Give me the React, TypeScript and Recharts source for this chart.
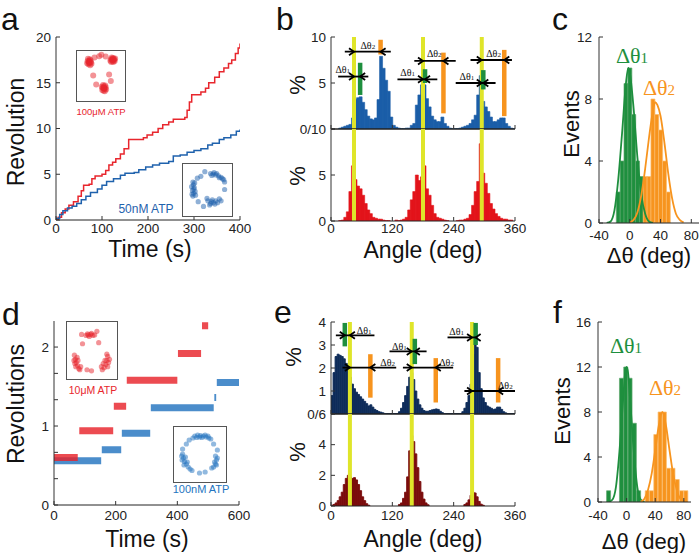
import React from 'react';
import {
  ComposedChart, Line, Bar, XAxis, YAxis, ReferenceLine, ReferenceDot, ScatterChart, Scatter,
} from 'recharts';

const SANS = '"Liberation Sans", Arial, Helvetica, sans-serif';
const SERIF = '"Liberation Serif", "Times New Roman", serif';
const INK = '#222';
const RED = '#e8262d';
const BLUE = '#1f62ad';
const HBLUE = '#1b5ea8';
const HRED = '#e3141b';
const NAVY = '#0f2c5a';
const MAROON = '#7b0c0c';
const YELLOW = '#dfe52a';
const GREEN = '#1e8f3e';
const ORANGE = '#f7941e';

// ---------- panel a : staircase traces ----------
const aRedT = [0,5,12,20,28,38,48,55,60,72,78,85,100,108,115,123,130,140,148,158,190,198,210,222,232,245,255,280,285,290,295,315,325,332,345,355,365,375,382,390,396,400];
const aRedRev = [0,0.3,0.8,1.2,1.6,2.0,2.6,3.2,3.8,3.9,4.5,4.8,5.0,5.4,6.0,6.3,6.7,7.2,7.8,8.8,9.0,9.3,9.6,10.0,10.4,10.7,11.0,11.2,12.0,12.9,13.7,14.0,14.4,15.0,15.6,16.2,16.6,17.1,17.5,18.2,18.8,19.3];
const aBlueT = [0,8,15,25,35,45,55,65,75,90,100,110,125,140,150,170,180,195,210,225,245,255,270,285,300,315,330,340,355,365,380,392,400];
const aBlueRev = [0.2,0.6,1.0,1.3,1.5,1.8,2.2,2.6,3.0,3.4,3.8,4.2,4.5,4.9,5.1,5.2,5.5,5.8,6.0,6.2,6.4,7.0,7.1,7.4,7.6,7.8,8.2,8.4,8.8,9.0,9.3,9.7,9.9];
const aTimeTicks = [0,100,200,300,400];
const aRevTicks = [0,5,10,15,20];

// ---------- panel d : dwell plateaus ----------
const dRedStart = [0,82,194,236,402,480];
const dRedEnd = [77,192,234,400,477,500];
const dRedLevel = [0.60,0.94,1.25,1.58,1.92,2.27];
const dBlueStart = [0,155,220,314,520,528];
const dBlueEnd = [153,218,312,518,526,600];
const dBlueLevel = [0.56,0.70,0.91,1.23,1.36,1.55];
const dTimeTicks = [0,200,400,600];
const dRevTicks = [0,1/3,2/3,1,4/3,5/3,2];

// ---------- panel b : angle histograms (5 deg bins) ----------
const bBin = 5;
const bTopPct = [
  0,0,0,0.1,0.2,0.3,0.4,0.5,1.2,3.2,
  3.4,3.5,2.9,2.1,1.4,1.1,1.0,1.2,3.2,7.9,
  6.6,5.3,4.1,1.3,0.4,0.2,0.1,0.05,0.05,0.1,
  0.1,0.4,0.6,2.6,3.7,4.8,4.8,3.3,2.4,1.4,
  1.0,0.8,0.8,1.3,0.6,0.3,0.1,0.05,0.05,0.05,
  0.1,0.2,0.3,0.4,0.6,1.0,1.5,3.7,5.8,3.0,
  2.4,1.9,1.3,0.8,0.8,1.0,1.2,1.2,0.6,0.3,
  0.1,0.05,
];
const bBottomPct = [
  0,0,0,0.05,0.1,0.4,1.0,3.2,6.0,4.5,
  3.8,3.5,2.8,1.9,1.2,0.8,0.4,0.3,0.2,0.2,
  0.1,0.05,0.05,0,0,0.1,0.05,0.1,0.2,0.4,
  1.2,2.3,3.2,5.0,4.4,4.8,6.0,3.5,2.8,1.7,
  0.8,0.4,0.3,0.2,0.1,0.05,0,0,0,0.05,
  0.1,0.1,0.2,0.3,0.7,1.7,3.2,4.3,8.4,5.2,
  4.1,3.0,1.9,1.3,0.8,0.5,0.3,0.2,0.2,0.1,
  0.1,0,
];
const bYellow = [45,180,295];
const bGreenX = [57,184,298];
const bGreenLo = [3.7,5.0,4.3];
const bGreenHi = [7.2,6.5,6.4];
const bOrangeX = [97,220,339];
const bOrangeLo = [8.1,1.7,1.4];
const bOrangeHi = [9.7,8.3,8.6];
const bArrowY = [8.4,5.7,7.4,5.4,7.5,5.0];
const bArrowFrom = [27,14,163,130,273,244];
const bArrowTo = [117,73,244,208,354,322];
const bArrowTipR = [45,45,180,180,295,295];
const bArrowTipL = [97,57,220,184,339,298];
const bArrowSub = ['2','1','2','1','2','1'];
const bArrowLabelX = [72,23,202,150,318,266];
const bArrowLabelY = [9.0,6.4,8.1,6.1,8.15,5.6];

// ---------- panel e : angle histograms (4 deg bins) ----------
const eBin = 4;
const eTopPct = [
  0.8,1.8,2.5,2.6,2.55,2.5,2.4,2.2,1.9,1.6,
  1.3,1.1,0.95,0.85,0.75,0.65,0.55,0.45,0.35,0.4,
  0.3,0.2,0.15,0.1,0.08,0.05,0.02,0.02,0.02,0.02,
  0.02,0.02,0.02,0.1,0.25,0.5,0.8,1.2,1.6,1.8,
  1.5,1.0,0.65,0.4,0.25,0.15,0.12,0.12,0.15,0.18,
  0.2,0.22,0.2,0.12,0.06,0.02,0.02,0.02,0.02,0.02,
  0.02,0.02,0.02,0.02,0.1,0.25,0.5,0.8,1.3,2.6,
  3.4,2.9,1.8,1.1,0.7,0.5,0.35,0.3,0.25,0.2,
  0.22,0.3,0.3,0.2,0.1,0.05,0.02,0.02,0.02,0.02,
];
const eBottomPct = [
  0.05,0.1,0.2,0.35,0.6,0.9,1.4,1.8,2.0,1.9,
  1.8,1.85,1.7,1.4,1.0,0.6,0.35,0.15,0.05,0,
  0,0,0,0,0,0,0,0,0,0,
  0,0,0,0.1,0.2,0.5,0.9,1.9,3.6,4.6,
  4.2,3.4,2.5,1.6,0.9,0.45,0.2,0.08,0,0,
  0,0,0,0,0,0,0,0,0,0,
  0,0,0,0,0,0.1,0.2,0.4,0.7,0.9,
  0.85,0.6,0.3,0.12,0.05,0,0,0,0,0,
  0,0,0,0,0,0,0,0,0,0,
];
const eYellow = [37,158,276];
const eGreenX = [27,164,283];
const eGreenLo = [2.94,2.17,3.0];
const eGreenHi = [3.96,3.27,3.96];
const eOrangeX = [77,205,327];
const eOrangeLo = [0.71,0.5,0.5];
const eOrangeHi = [2.6,2.43,2.43];
const eArrowY = [3.42,2.72,3.33,2.02,2.02,1.0];
const eArrowFrom = [9.5,114.5,228,22.6,140.7,261];
const eArrowTo = [85,187,285,127.6,239,360];
const eArrowTipR = [27,158,276,37,158,276];
const eArrowTipL = [37,164,283,77,205,327];
const eArrowSub = ['1','1','1','2','2','2'];
const eArrowLabelX = [65,134,246,111,226,341];
const eArrowLabelY = [3.62,2.9,3.55,2.2,2.2,1.22];
const angleTicks = [0,120,240,360];

// ---------- panel c ----------
const cBinX = [-15,-10,-5,0,5,10,15,20,25,30,35,40,45,50];
const cGreenCount = [2,4,9,10,7,4,3,0,0,0,0,0,0,0];
const cOrangeCount = [0,0,0,0,0,0,0,3,3,8,7,6,4,2];
const cGreenFitX = [-30,-25,-20,-15,-10,-5,-2,0,5,10,15,20,25,30];
const cGreenFitY = [0,0.1,0.8,2.8,5.8,9,10,9.7,7.4,4.2,1.8,0.6,0.1,0];
const cOrangeFitX = [0,5,10,15,20,25,30,33,36,40,45,50,55,60,65,70];
const cOrangeFitY = [0.05,0.2,0.7,1.8,3.5,5.5,7.2,7.8,7.6,6.9,5.2,3.2,1.6,0.6,0.2,0.05];

// ---------- panel f ----------
const fBinX = [-25,-19,-13,-7,-1,5,11,17,23,29,35,41,47,53,59,65,71,77,83];
const fGreenCount = [1,0,0,11,12,11,7,1,0,0,0,0,0,0,0,0,0,0,0];
const fOrangeCount = [0,0,0,0,0,0,0,0,0,1,1,6,8,8,3,3,2,1,1];
const fGreenFitX = [-25,-20,-15,-10,-5,-2,0,2,5,10,15,20,25];
const fGreenFitY = [0.02,0.2,1.3,4.5,9,11.5,12,11.5,9,4.5,1.3,0.2,0.02];
const fOrangeFitX = [20,25,30,35,40,45,50,55,60,65,70,75,80,85];
const fOrangeFitY = [0.03,0.3,1.1,2.5,4.6,6.8,8,6.8,4.6,2.5,1.1,0.3,0.1,0.02];
const dThetaTicks = [-40,0,40,80];

// ---------- inset clouds (x, y in inset units) ----------
const aRedInset = [
  [0.20,0.82],[0.24,0.78],[0.27,0.84],[0.22,0.75],[0.28,0.79],[0.25,0.86],[0.19,0.77],[0.23,0.81],[0.26,0.73],[0.21,0.87],[0.24,0.83],[0.29,0.76],[0.23,0.79],[0.26,0.80],
  [0.74,0.86],[0.78,0.82],[0.82,0.86],[0.76,0.90],[0.80,0.80],[0.77,0.86],[0.83,0.82],[0.73,0.83],[0.79,0.89],[0.81,0.84],[0.75,0.80],[0.84,0.88],[0.78,0.85],[0.80,0.87],
  [0.55,0.22],[0.60,0.20],[0.58,0.26],[0.62,0.24],[0.54,0.18],[0.57,0.16],[0.61,0.28],[0.59,0.22],[0.53,0.25],[0.63,0.19],[0.56,0.29],[0.60,0.15],[0.58,0.21],[0.57,0.23],
  [0.47,0.93],[0.52,0.96],[0.40,0.30],[0.33,0.50],[0.70,0.52],[0.74,0.38],[0.62,0.92],[0.36,0.90],
];
const aBlueInset = [
  [0.18,0.36],[0.20,0.42],[0.17,0.48],[0.21,0.54],[0.19,0.60],[0.23,0.46],[0.16,0.40],[0.22,0.64],[0.20,0.51],[0.24,0.38],[0.15,0.56],[0.18,0.66],
  [0.58,0.84],[0.64,0.83],[0.70,0.81],[0.76,0.79],[0.82,0.76],[0.88,0.71],[0.66,0.86],[0.78,0.75],[0.90,0.66],[0.72,0.84],[0.85,0.73],[0.61,0.80],
  [0.52,0.26],[0.58,0.20],[0.64,0.22],[0.70,0.26],[0.78,0.30],[0.62,0.28],[0.56,0.17],[0.68,0.19],[0.82,0.26],[0.50,0.31],[0.74,0.22],[0.60,0.24],
  [0.36,0.78],[0.42,0.14],[0.90,0.50],[0.30,0.24],[0.45,0.88],[0.28,0.74],
];
const dRedInset = [
  [0.38,0.78],[0.43,0.79],[0.48,0.80],[0.53,0.78],[0.57,0.79],[0.45,0.76],[0.50,0.82],[0.41,0.81],
  [0.12,0.40],[0.14,0.32],[0.16,0.26],[0.19,0.20],[0.22,0.14],[0.15,0.18],[0.20,0.30],[0.24,0.12],[0.13,0.24],[0.18,0.36],[0.26,0.18],[0.11,0.30],
  [0.86,0.38],[0.84,0.30],[0.82,0.22],[0.78,0.16],[0.74,0.12],[0.88,0.26],[0.80,0.30],[0.72,0.18],[0.86,0.18],[0.84,0.42],[0.76,0.24],[0.90,0.32],
  [0.30,0.62],[0.66,0.64],[0.50,0.10],[0.62,0.86],[0.28,0.80],[0.40,0.12],
];
const dBlueInset = [
  [0.40,0.86],[0.46,0.88],[0.52,0.87],[0.58,0.86],[0.64,0.84],[0.70,0.82],[0.44,0.83],[0.55,0.83],[0.62,0.88],[0.50,0.84],[0.68,0.86],[0.36,0.82],
  [0.14,0.50],[0.16,0.42],[0.18,0.35],[0.22,0.30],[0.26,0.24],[0.20,0.44],[0.13,0.38],[0.24,0.34],[0.30,0.20],[0.17,0.28],[0.34,0.17],[0.12,0.46],
  [0.84,0.46],[0.86,0.38],[0.84,0.30],[0.80,0.24],[0.88,0.42],[0.82,0.34],[0.76,0.22],[0.86,0.28],
  [0.22,0.70],[0.28,0.78],[0.80,0.70],[0.88,0.58],[0.50,0.12],[0.62,0.14],[0.14,0.60],[0.74,0.80],
];

// ---------- built tables ----------
const aRed = aRedT.map((x, i) => ({ x, rev: aRedRev[i] }));
const aBlue = aBlueT.map((x, i) => ({ x, rev: aBlueRev[i] }));
function plateaus(starts: number[], ends: number[], levels: number[]) {
  const out: { x: number; rev: number | null }[] = [];
  starts.forEach((s, i) => {
    out.push({ x: s, rev: levels[i] });
    out.push({ x: ends[i], rev: levels[i] });
    out.push({ x: ends[i] + 0.5, rev: null });
  });
  return out;
}
const dRed = plateaus(dRedStart, dRedEnd, dRedLevel);
const dBlue = plateaus(dBlueStart, dBlueEnd, dBlueLevel);
const hist = (vals: number[], bin: number) => vals.map((v, i) => ({ x: i * bin + bin / 2, v }));
const bTop = hist(bTopPct, bBin);
const bBottom = hist(bBottomPct, bBin);
const eTop = hist(eTopPct, eBin);
const eBottom = hist(eBottomPct, eBin);
const cTable = cBinX.map((x, i) => ({ x, g: cGreenCount[i], o: cOrangeCount[i] }));
const fTable = fBinX.map((x, i) => ({ x, g: fGreenCount[i], o: fOrangeCount[i] }));
const pairs = (xs: number[], ys: number[]) => xs.map((x, i) => ({ x, y: ys[i] }));
const toPts = (arr: number[][]) => arr.map(([x, y]) => ({ x, y }));

// ---------- layout helpers ----------
type Box = { x: number; y: number; w: number; h: number };
const PAD_L = 50, PAD_R = 12, PAD_T = 12, PAD_B = 30;
const chartMargin = { top: PAD_T, right: PAD_R, bottom: 0, left: 0 };
const wrap = (b: Box): React.CSSProperties => ({
  position: 'absolute', left: b.x - PAD_L, top: b.y - PAD_T,
  width: b.w + PAD_L + PAD_R, height: b.h + PAD_T + PAD_B,
});
const cw = (b: Box) => b.w + PAD_L + PAD_R;
const ch = (b: Box) => b.h + PAD_T + PAD_B;

type AxSpec = {
  xDomain: [number, number]; xTicks: number[]; xFmt?: (v: number) => string;
  yDomain: [number, number]; yTicks: number[]; yFmt?: (v: number) => string;
  xLine?: number; xMargin?: number; yMargin?: number;
};
const blank = () => '';
function axes(s: AxSpec) {
  const tick = { fontSize: 13.5, fill: INK, fontFamily: SANS };
  const common: any = {
    tickSize: -4, tick, tickLine: { stroke: '#333' }, interval: 0, allowDataOverflow: true,
  };
  return [
    <XAxis key="xb" xAxisId={0} orientation="bottom" type="number" dataKey="x" domain={s.xDomain}
      ticks={s.xTicks} tickFormatter={s.xFmt} height={PAD_B} tickMargin={s.xMargin ?? 7} {...common}
      axisLine={{ stroke: '#222', strokeWidth: s.xLine ?? 1 }} />,
    <XAxis key="xt" xAxisId="top" orientation="top" type="number" dataKey="x" domain={s.xDomain}
      ticks={s.xTicks} tickFormatter={blank} height={0} {...common} axisLine={{ stroke: '#333' }} />,
    <YAxis key="yl" yAxisId={0} orientation="left" type="number" domain={s.yDomain}
      ticks={s.yTicks} tickFormatter={s.yFmt} width={PAD_L} tickMargin={s.yMargin ?? 9} {...common} axisLine={{ stroke: '#333' }} />,
    <YAxis key="yr" yAxisId="right" orientation="right" type="number" domain={s.yDomain}
      ticks={s.yTicks} tickFormatter={blank} width={0} {...common} axisLine={{ stroke: '#333' }} />,
  ];
}

const headRight = (p: any) => (
  <path d={`M${p.cx - 5},${p.cy - 3.5}L${p.cx},${p.cy}L${p.cx - 5},${p.cy + 3.5}`} stroke="#000" strokeWidth={1.8} fill="none" />
);
const headLeft = (p: any) => (
  <path d={`M${p.cx + 5},${p.cy - 3.5}L${p.cx},${p.cy}L${p.cx + 5},${p.cy + 3.5}`} stroke="#000" strokeWidth={1.8} fill="none" />
);

function yellowLines(xs: number[]) {
  return xs.map((x, i) => <ReferenceLine key={`yl${i}`} x={x} stroke={YELLOW} strokeWidth={4} />);
}
function marks(xs: number[], lo: number[], hi: number[], color: string, k: string) {
  return xs.map((x, i) => (
    <ReferenceLine key={`${k}${i}`} segment={[{ x, y: lo[i] }, { x, y: hi[i] }]} stroke={color} strokeWidth={4.5} />
  ));
}
function arrows(ys: number[], from: number[], to: number[], tipR: number[], tipL: number[], sub: string[], lx: number[], ly: number[], k: string) {
  const out: React.ReactNode[] = [];
  ys.forEach((y, i) => {
    out.push(<ReferenceLine key={`${k}l${i}`} segment={[{ x: from[i], y }, { x: to[i], y }]} stroke="#000" strokeWidth={1.8} />);
    out.push(<ReferenceDot key={`${k}r${i}`} x={tipR[i]} y={y} r={1} shape={headRight} />);
    out.push(<ReferenceDot key={`${k}f${i}`} x={tipL[i]} y={y} r={1} shape={headLeft} />);
    out.push(
      <ReferenceDot key={`${k}t${i}`} x={lx[i]} y={ly[i]} r={1}
        shape={(p: any) => (
          <text x={p.cx} y={p.cy + 3} textAnchor="middle" fontFamily={SERIF} fontSize={10} fill="#111">
            Δθ<tspan fontSize={7}>{sub[i]}</tspan>
          </text>
        )} />,
    );
  });
  return out;
}

function Inset({ box, pts, color, r }: { box: Box; pts: { x: number; y: number }[]; color: string; r: number }) {
  return (
    <div style={{ position: 'absolute', left: box.x, top: box.y, width: box.w, height: box.h, border: '1.3px solid #555', boxSizing: 'border-box', background: '#fff' }}>
      <ScatterChart width={box.w - 3} height={box.h - 3} margin={{ top: 2, right: 2, bottom: 2, left: 2 }}>
        <XAxis type="number" dataKey="x" domain={[0, 1]} hide />
        <YAxis type="number" dataKey="y" domain={[0, 1]} hide />
        <Scatter data={pts} fill={color} isAnimationActive={false}
          shape={(p: any) => <circle cx={p.cx} cy={p.cy} r={r} fill={color} fillOpacity={0.5} />} />
      </ScatterChart>
    </div>
  );
}

const A: Box = { x: 56, y: 37, w: 184, h: 183 };
const BT: Box = { x: 331, y: 37, w: 184, h: 92 };
const BB: Box = { x: 331, y: 129, w: 184, h: 92 };
const C: Box = { x: 599, y: 37, w: 100, h: 186 };
const D: Box = { x: 54, y: 321, w: 185, h: 184 };
const ET: Box = { x: 331, y: 322, w: 184, h: 92 };
const EB: Box = { x: 331, y: 414, w: 184, h: 92 };
const F: Box = { x: 598, y: 322, w: 93, h: 180 };

const intOnly = (v: number) => (Math.abs(v - Math.round(v)) < 1e-6 ? String(Math.round(v)) : '');

export default function App() {
  return (
    <div style={{ position: 'absolute', left: 0, top: 0, width: 700, height: 553, overflow: 'hidden', background: '#fff', fontFamily: SANS }}>
      {/* a */}
      <div style={wrap(A)}>
        <ComposedChart width={cw(A)} height={ch(A)} margin={chartMargin}>
          {axes({ xDomain: [0, 400], xTicks: aTimeTicks, yDomain: [0, 20], yTicks: aRevTicks })}
          <Line data={aRed} dataKey="rev" type="stepAfter" stroke={RED} strokeWidth={1.5} dot={false} isAnimationActive={false} />
          <Line data={aBlue} dataKey="rev" type="stepAfter" stroke={BLUE} strokeWidth={1.5} dot={false} isAnimationActive={false} />
        </ComposedChart>
      </div>
      <Inset box={{ x: 76, y: 50, w: 50, h: 52 }} pts={toPts(aRedInset)} color={RED} r={3} />
      <Inset box={{ x: 182, y: 163, w: 51, h: 54 }} pts={toPts(aBlueInset)} color={BLUE} r={2.6} />

      {/* b */}
      <div style={wrap(BT)}>
        <ComposedChart width={cw(BT)} height={ch(BT)} margin={chartMargin} data={bTop} barCategoryGap={0} barGap={0}>
          {axes({ xDomain: [0, 360], xTicks: angleTicks, xFmt: blank, yDomain: [0, 10], yTicks: [0, 5, 10], yFmt: (v) => (v === 0 ? '0/10' : String(v)), xLine: 1.6 })}
          <Bar dataKey="v" fill={HBLUE} stroke={HBLUE} strokeWidth={0.6} isAnimationActive={false} />
          {yellowLines(bYellow)}
          {marks(bGreenX, bGreenLo, bGreenHi, GREEN, 'bg')}
          {marks(bOrangeX, bOrangeLo, bOrangeHi, ORANGE, 'bo')}
          {arrows(bArrowY, bArrowFrom, bArrowTo, bArrowTipR, bArrowTipL, bArrowSub, bArrowLabelX, bArrowLabelY, 'ba')}
        </ComposedChart>
      </div>
      <div style={wrap(BB)}>
        <ComposedChart width={cw(BB)} height={ch(BB)} margin={chartMargin} data={bBottom} barCategoryGap={0} barGap={0}>
          {axes({ xDomain: [0, 360], xTicks: angleTicks, yDomain: [0, 10], yTicks: [0, 5, 10], yFmt: (v) => (v === 10 ? '' : String(v)), xMargin: 6 })}
          <Bar dataKey="v" fill={HRED} stroke={HRED} strokeWidth={0.6} isAnimationActive={false} />
          {yellowLines(bYellow)}
        </ComposedChart>
      </div>

      {/* c */}
      <div style={wrap(C)}>
        <ComposedChart width={cw(C)} height={ch(C)} margin={chartMargin} data={cTable} barCategoryGap={0} barGap={0}>
          {axes({ xDomain: [-40, 90], xTicks: dThetaTicks, yDomain: [0, 12], yTicks: [0, 4, 8, 12], xMargin: 11, yMargin: 11 })}
          <Bar dataKey="g" stackId="s" fill={GREEN} stroke="#5ea86f" strokeWidth={0.7} isAnimationActive={false} />
          <Bar dataKey="o" stackId="s" fill={ORANGE} stroke="#fbbd70" strokeWidth={0.7} isAnimationActive={false} />
          <Line xAxisId="top" data={pairs(cGreenFitX, cGreenFitY)} dataKey="y" type="monotone" stroke={GREEN} strokeWidth={1.8} dot={false} isAnimationActive={false} />
          <Line xAxisId="top" data={pairs(cOrangeFitX, cOrangeFitY)} dataKey="y" type="monotone" stroke={ORANGE} strokeWidth={1.8} dot={false} isAnimationActive={false} />
        </ComposedChart>
      </div>

      {/* d */}
      <div style={wrap(D)}>
        <ComposedChart width={cw(D)} height={ch(D)} margin={chartMargin}>
          {axes({ xDomain: [0, 600], xTicks: dTimeTicks, yDomain: [0, 2.33], yTicks: dRevTicks, yFmt: intOnly, xMargin: 9 })}
          <Line data={dBlue} dataKey="rev" stroke="#2374c0" strokeWidth={7} strokeOpacity={0.82} strokeLinecap="butt" dot={false} connectNulls={false} isAnimationActive={false} />
          <Line data={dRed} dataKey="rev" stroke="#e8232b" strokeWidth={7} strokeOpacity={0.82} strokeLinecap="butt" dot={false} connectNulls={false} isAnimationActive={false} />
        </ComposedChart>
      </div>
      <Inset box={{ x: 66, y: 321, w: 52, h: 59 }} pts={toPts(dRedInset)} color={RED} r={2.6} />
      <Inset box={{ x: 173, y: 426, w: 54, h: 57 }} pts={toPts(dBlueInset)} color="#2374c0" r={2.6} />

      {/* e */}
      <div style={wrap(ET)}>
        <ComposedChart width={cw(ET)} height={ch(ET)} margin={chartMargin} data={eTop} barCategoryGap={0} barGap={0}>
          {axes({ xDomain: [0, 360], xTicks: angleTicks, xFmt: blank, yDomain: [0, 4], yTicks: [0, 1, 2, 3, 4], yFmt: (v) => (v === 0 ? '0/6' : String(v)), xLine: 1.6 })}
          <Bar dataKey="v" fill={NAVY} stroke={NAVY} strokeWidth={0.9} isAnimationActive={false} />
          {yellowLines(eYellow)}
          {marks(eGreenX, eGreenLo, eGreenHi, GREEN, 'eg')}
          {marks(eOrangeX, eOrangeLo, eOrangeHi, ORANGE, 'eo')}
          {arrows(eArrowY, eArrowFrom, eArrowTo, eArrowTipR, eArrowTipL, eArrowSub, eArrowLabelX, eArrowLabelY, 'ea')}
        </ComposedChart>
      </div>
      <div style={wrap(EB)}>
        <ComposedChart width={cw(EB)} height={ch(EB)} margin={chartMargin} data={eBottom} barCategoryGap={0} barGap={0}>
          {axes({ xDomain: [0, 360], xTicks: angleTicks, yDomain: [0, 6], yTicks: [0, 2, 4, 6], yFmt: (v) => (v === 6 ? '' : String(v)), xMargin: 8 })}
          <Bar dataKey="v" fill={MAROON} stroke={MAROON} strokeWidth={0.9} isAnimationActive={false} />
          {yellowLines(eYellow)}
        </ComposedChart>
      </div>

      {/* f */}
      <div style={wrap(F)}>
        <ComposedChart width={cw(F)} height={ch(F)} margin={chartMargin} data={fTable} barCategoryGap={0} barGap={0}>
          {axes({ xDomain: [-40, 90], xTicks: dThetaTicks, yDomain: [0, 16], yTicks: [0, 4, 8, 12, 16], xMargin: 12, yMargin: 11 })}
          <Bar dataKey="g" stackId="s" fill={GREEN} stroke="#5ea86f" strokeWidth={0.7} isAnimationActive={false} />
          <Bar dataKey="o" stackId="s" fill={ORANGE} stroke="#fbbd70" strokeWidth={0.7} isAnimationActive={false} />
          <Line xAxisId="top" data={pairs(fGreenFitX, fGreenFitY)} dataKey="y" type="monotone" stroke={GREEN} strokeWidth={1.8} dot={false} isAnimationActive={false} />
          <Line xAxisId="top" data={pairs(fOrangeFitX, fOrangeFitY)} dataKey="y" type="monotone" stroke={ORANGE} strokeWidth={1.8} dot={false} isAnimationActive={false} />
        </ComposedChart>
      </div>

      {/* text overlay */}
      <svg width={700} height={553} style={{ position: 'absolute', left: 0, top: 0, pointerEvents: 'none' }}>
        <g fontFamily={SANS} fill="#111">
          <text x={1} y={30} fontSize={32}>a</text>
          <text x={276} y={30} fontSize={32}>b</text>
          <text x={552} y={30} fontSize={32}>c</text>
          <text x={2} y={325} fontSize={32}>d</text>
          <text x={274} y={323} fontSize={32}>e</text>
          <text x={553} y={323} fontSize={32}>f</text>

          <text transform="translate(16,132) rotate(-90)" textAnchor="middle" dominantBaseline="central" fontSize={23}>Revolution</text>
          <text x={150} y={257} textAnchor="middle" fontSize={23}>Time (s)</text>
          <text transform="translate(297,85) rotate(-90)" textAnchor="middle" dominantBaseline="central" fontSize={22}>%</text>
          <text transform="translate(297,176) rotate(-90)" textAnchor="middle" dominantBaseline="central" fontSize={22}>%</text>
          <text x={423} y={258} textAnchor="middle" fontSize={23}>Angle (deg)</text>
          <text transform="translate(571,124) rotate(-90)" textAnchor="middle" dominantBaseline="central" fontSize={22}>Events</text>
          <text x={649} y={263} textAnchor="middle" fontSize={22}>Δθ (deg)</text>

          <text transform="translate(16,404) rotate(-90)" textAnchor="middle" dominantBaseline="central" fontSize={23}>Revolutions</text>
          <text x={147} y={547} textAnchor="middle" fontSize={23}>Time (s)</text>
          <text transform="translate(293,357) rotate(-90)" textAnchor="middle" dominantBaseline="central" fontSize={22}>%</text>
          <text transform="translate(297,452) rotate(-90)" textAnchor="middle" dominantBaseline="central" fontSize={22}>%</text>
          <text x={423} y={547} textAnchor="middle" fontSize={23}>Angle (deg)</text>
          <text transform="translate(562,411) rotate(-90)" textAnchor="middle" dominantBaseline="central" fontSize={22}>Events</text>
          <text x={644} y={549} textAnchor="middle" fontSize={22}>Δθ (deg)</text>
        </g>
        <text x={101} y={115} textAnchor="middle" fontSize={9.5} fill={RED}>100μM ATP</text>
        <text x={146} y={213} textAnchor="middle" fontSize={12} fill={BLUE}>50nM ATP</text>
        <text x={93} y={394} textAnchor="middle" fontSize={10.5} fill={RED}>10μM ATP</text>
        <text x={201} y={493} textAnchor="middle" fontSize={11} fill="#2374c0">100nM ATP</text>

        <text x={632} y={63} textAnchor="middle" fontFamily={SERIF} fontSize={22} fill={GREEN}>Δθ<tspan fontSize={15}>1</tspan></text>
        <text x={659} y={95} textAnchor="middle" fontFamily={SERIF} fontSize={22} fill={ORANGE}>Δθ<tspan fontSize={15}>2</tspan></text>
        <text x={626} y={353} textAnchor="middle" fontFamily={SERIF} fontSize={22} fill={GREEN}>Δθ<tspan fontSize={15}>1</tspan></text>
        <text x={665} y={395} textAnchor="middle" fontFamily={SERIF} fontSize={22} fill={ORANGE}>Δθ<tspan fontSize={15}>2</tspan></text>
      </svg>
    </div>
  );
}
